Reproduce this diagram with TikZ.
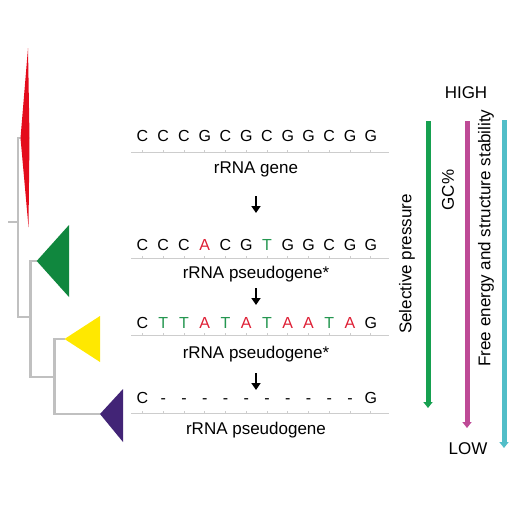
\documentclass[tikz,border=0pt]{standalone}
\usepackage{fontspec}
\setmainfont{Liberation Sans}
\usetikzlibrary{arrows.meta}
\definecolor{treegray}{RGB}{192,192,192}
\definecolor{linegray}{RGB}{205,205,205}
\definecolor{cladered}{RGB}{228,12,28}
\definecolor{cladegreen}{RGB}{16,135,62}
\definecolor{cladeyellow}{RGB}{255,232,0}
\definecolor{cladepurple}{RGB}{66,36,118}
\definecolor{basered}{RGB}{222,30,52}
\definecolor{basegreen}{RGB}{36,150,80}
\definecolor{selgreen}{RGB}{22,160,80}
\definecolor{gcpink}{RGB}{190,74,150}
\definecolor{fecyan}{RGB}{82,190,200}
\tikzset{letter/.style={anchor=base,inner sep=0pt,font=\fontsize{16}{19}\selectfont}}
\tikzset{seqlabel/.style={anchor=base,inner sep=0pt,font=\fontsize{17}{20}\selectfont}}
\tikzset{seqline/.style={draw=linegray,line width=0.8pt}}
\tikzset{branch/.style={draw=treegray,line width=2.7pt}}
\tikzset{mutarrow/.style={-{Triangle[width=9pt,length=7pt]},line width=2.6pt}}
\tikzset{trend/.style={-{Triangle[width=9pt,length=6pt]},line width=5pt}}
\tikzset{trendtext/.style={rotate=90,inner sep=0pt,font=\fontsize{17}{20}\selectfont}}

\begin{document}
\begin{tikzpicture}[x=1pt,y=-1pt]
      \useasboundingbox (0,0) rectangle (520,520);
      % tree
      \draw [branch] (8,222) -- (18,222);
      \draw [branch] (21,138) -- (18,138) -- (18,317) -- (30.7,317);
      \draw [branch] (37,261) -- (30.7,261) -- (30.7,377) -- (54.3,377);
      \draw [branch] (64.5,339) -- (54.3,339) -- (54.3,414) -- (100,414);
      \fill [cladered] (28,48) -- (20.5,138) -- (28.5,227) -- (29.5,138) -- cycle;
      \fill [cladegreen] (36.7,261) -- (69,225) -- (69,297) -- cycle;
      \fill [cladeyellow] (64.5,339) -- (100,316) -- (100,362) -- cycle;
      \fill [cladepurple] (100,414) -- (123,389) -- (123,442) -- cycle;
      % sequences
      \foreach \ch [count=\i] in {C,C,C,G,C,G,C,G,G,C,G,G}
        \node [letter] (ra\i) at ({142.5+20.75*(\i-1)},141) {\ch};
      \foreach \ch/\col [count=\i] in {C/black,C/black,C/black,A/basered,C/black,G/black,T/basegreen,G/black,G/black,C/black,G/black,G/black}
        \node [letter,text=\col] (rb\i) at ({142.5+20.75*(\i-1)},250) {\ch};
      \foreach \ch/\col [count=\i] in {C/black,T/basegreen,T/basegreen,A/basered,T/basegreen,A/basered,T/basegreen,A/basered,A/basered,T/basegreen,A/basered,G/black}
        \node [letter,text=\col] (rc\i) at ({142.5+20.75*(\i-1)},328) {\ch};
      \foreach \ch [count=\i] in {C,-,-,-,-,-,-,-,-,-,-,G}
        \node [letter] (rd\i) at ({142.5+20.75*(\i-1)},403) {\ch};
      \foreach \y in {152,258,335,413} {
        \draw [seqline] (131,\y) -- (389,\y);
        \foreach \i in {1,...,12}
          \draw [seqline] ({142.5+20.75*(\i-1)},\y) -- ++(0,-2.5);
      }
      \node [seqlabel] (gene) at (256,173) {rRNA gene};
      \node [seqlabel] (pseudoa) at (256,278) {rRNA pseudogene*};
      \node [seqlabel] (pseudob) at (256,358) {rRNA pseudogene*};
      \node [seqlabel] (pseudoc) at (256,434) {rRNA pseudogene};
      \coordinate (m1) at (256,196);
      \coordinate (m2) at (256,213);
      \coordinate (m3) at (256,288);
      \coordinate (m4) at (256,305);
      \coordinate (m5) at (256,373);
      \coordinate (m6) at (256,390);
      \draw [mutarrow] (m1) -- (m2);
      \draw [mutarrow] (m3) -- (m4);
      \draw [mutarrow] (m5) -- (m6);
      % trends
      \node [seqlabel] (high) at (466,98) {HIGH};
      \node [seqlabel] (low) at (468,454) {LOW};
      \coordinate (s1) at (428,121);
      \coordinate (s2) at (428,408);
      \coordinate (g1) at (467,121);
      \coordinate (g2) at (467,428);
      \coordinate (f1) at (504,120);
      \coordinate (f2) at (504,448);
      \draw [trend,selgreen] (s1) -- (s2);
      \draw [trend,gcpink] (g1) -- (g2);
      \draw [trend,fecyan] (f1) -- (f2);
      \node [trendtext] (selp) at (407,264) {Selective pressure};
      \node [trendtext] (gcp) at (448,190) {GC\%};
      \node [trendtext] (free) at (486,238) {Free energy and structure stability};
    \end{tikzpicture}
\end{document}
